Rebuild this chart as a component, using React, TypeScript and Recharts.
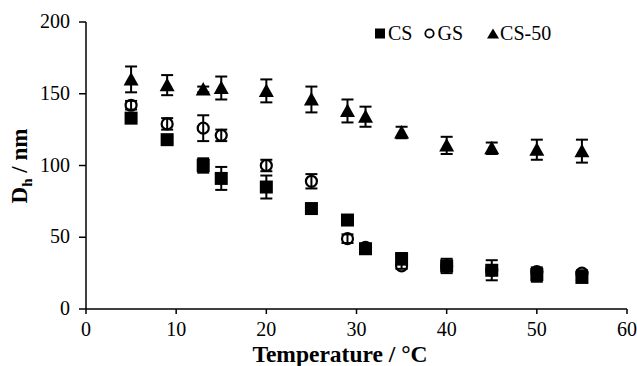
import React from 'react';
import { ScatterChart, Scatter, XAxis, YAxis, ErrorBar } from 'recharts';

const temps = [5, 9, 13, 15, 20, 25, 29, 31, 35, 40, 45, 50, 55];
const csVals = [133, 118, 100, 91, 85, 70, 62, 42, 35, 30, 27, 24, 22];
const csErr = [2, 2, 5, 8, 8, 2, 2, 2, 4, 5, 7, 5, 2];
const gsVals = [142, 129, 126, 121, 100, 89, 49, 43, 30, 30, 27, 26, 25];
const gsErr = [3, 4, 9, 4, 4, 5, 3, 2, 2, 2, 2, 2, 2];
const cs50Vals = [160, 156, 153, 154, 152, 146, 138, 134, 123, 114, 112, 111, 110];
const cs50Err = [9, 7, 2, 8, 8, 9, 8, 7, 4, 6, 4, 7, 8];
const xTicks = [0, 10, 20, 30, 40, 50, 60];
const yTicks = [0, 50, 100, 150, 200];

const toPoints = (vals: number[], errs: number[]) =>
  temps.map((t, i) => ({ x: t, y: vals[i], err: errs[i] }));

const csData = toPoints(csVals, csErr);
const gsData = toPoints(gsVals, gsErr);
const cs50Data = toPoints(cs50Vals, cs50Err);

const FONT = '"Liberation Serif", "Times New Roman", serif';

const SquareDot = (p: any) => (
  <rect x={p.cx - 6.5} y={p.cy - 6.5} width={13} height={13} fill="#000" />
);
const CircleDot = (p: any) => (
  <circle cx={p.cx} cy={p.cy} r={5.5} fill="none" stroke="#000" strokeWidth={2.2} />
);
const TriangleDot = (p: any) => (
  <polygon
    points={`${p.cx},${p.cy - 7.5} ${p.cx + 7.5},${p.cy + 6} ${p.cx - 7.5},${p.cy + 6}`}
    fill="#000"
  />
);

const XTick = ({ x, y, payload }: any) => (
  <text x={x} y={y + 17} textAnchor="middle" fontFamily={FONT} fontSize={20} fill="#000">
    {payload.value}
  </text>
);

const YTick = ({ x, y, payload }: any) => (
  <text x={x} y={y + 6} textAnchor="end" fontFamily={FONT} fontSize={20} fill="#000">
    {payload.value}
  </text>
);

const YLabel = () => (
  <text
    transform="translate(27,166) rotate(-90)"
    textAnchor="middle"
    fontFamily={FONT}
    fontWeight="bold"
    fontSize={23}
    fill="#000"
  >
    D<tspan fontSize={15} dy={5}>h</tspan>
    <tspan dy={-5}> / nm</tspan>
  </text>
);

const XLabel = () => (
  <text x={340} y={362} textAnchor="middle" fontFamily={FONT} fontWeight="bold" fontSize={23.5} fill="#000">
    Temperature / °C
  </text>
);

const LegendBox = () => (
  <div
    style={{
      position: 'absolute', top: 22, left: 375, display: 'flex', alignItems: 'center',
      fontFamily: FONT, fontSize: 20, color: '#000', lineHeight: '22px',
    }}
  >
    <svg width={11} height={11} style={{ marginRight: 2 }}>
      <rect x={0} y={0.5} width={10} height={10} fill="#000" />
    </svg>
    <span style={{ marginRight: 12 }}>CS</span>
    <svg width={11} height={11} style={{ marginRight: 2 }}>
      <circle cx={5.5} cy={5.5} r={4.2} fill="none" stroke="#000" strokeWidth={1.8} />
    </svg>
    <span style={{ marginRight: 24 }}>GS</span>
    <svg width={12} height={11} style={{ marginRight: 1 }}>
      <polygon points="6,0.5 12,10.5 0,10.5" fill="#000" />
    </svg>
    <span>CS-50</span>
  </div>
);

export default function App() {
  return (
    <div style={{ position: 'absolute', left: 0, top: 0, width: 637, height: 366, background: '#fff', fontFamily: FONT }}>
      <ScatterChart width={637} height={366} margin={{ top: 22, right: 10, left: 0, bottom: 0 }}>
        <XAxis
          type="number"
          dataKey="x"
          domain={[0, 60]}
          ticks={xTicks}
          height={57}
          tickSize={5}
          tickMargin={5}
          axisLine={{ stroke: '#000', strokeWidth: 1.5 }}
          tickLine={{ stroke: '#000', strokeWidth: 1.5 }}
          tick={<XTick />}
          label={<XLabel />}
        />
        <YAxis
          type="number"
          dataKey="y"
          domain={[0, 200]}
          ticks={yTicks}
          width={86}
          tickSize={7}
          tickMargin={9}
          axisLine={{ stroke: '#000', strokeWidth: 1.5 }}
          tickLine={{ stroke: '#000', strokeWidth: 1.5 }}
          tick={<YTick />}
          label={<YLabel />}
        />
        <Scatter data={csData} shape={SquareDot} isAnimationActive={false}>
          <ErrorBar dataKey="err" direction="y" width={6} stroke="#000" strokeWidth={2} />
        </Scatter>
        <Scatter data={gsData} shape={CircleDot} isAnimationActive={false}>
          <ErrorBar dataKey="err" direction="y" width={6} stroke="#000" strokeWidth={2} />
        </Scatter>
        <Scatter data={cs50Data} shape={TriangleDot} isAnimationActive={false}>
          <ErrorBar dataKey="err" direction="y" width={6} stroke="#000" strokeWidth={2} />
        </Scatter>
      </ScatterChart>
      <LegendBox />
    </div>
  );
}
